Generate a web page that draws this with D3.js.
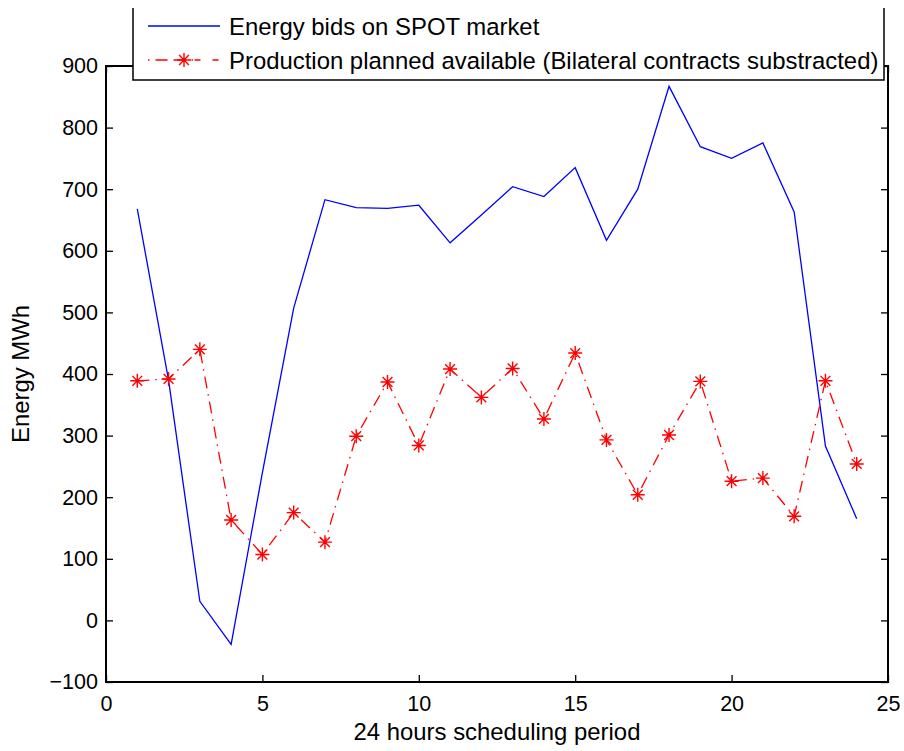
<!DOCTYPE html>
<html>
<head>
<meta charset="utf-8">
<script src="https://cdn.jsdelivr.net/npm/d3@7"></script>
<style>
  body { margin: 0; background: #fff; }
  text { font-family: "Liberation Sans", Arial, sans-serif; fill: #000; }
</style>
</head>
<body>
<div id="chart"></div>
<script>
// data
var hours = [1, 2, 3, 4, 5, 6, 7, 8, 9, 10, 11, 12, 13, 14, 15, 16, 17, 18, 19, 20, 21, 22, 23, 24];
var spotBids = [668, 390, 31, -39, 240, 507, 683, 670, 669, 674, 613, 658, 704, 688, 735, 617, 700, 867, 769, 750, 775, 663, 283, 165];
var plannedAvail = [389, 392, 440, 163, 107, 175, 127, 299, 387, 284, 408, 362, 409, 327, 434, 293, 204, 301, 388, 226, 231, 169, 389, 254];
var xTicks = [0, 5, 10, 15, 20, 25];
var yTicks = [-100, 0, 100, 200, 300, 400, 500, 600, 700, 800, 900];
var legendLabels = ["Energy bids on SPOT market", "Production planned available (Bilateral contracts substracted)"];

var width = 904, height = 751;
var margin = { top: 66, right: 16, bottom: 69, left: 106 };
var w = width - margin.left - margin.right,
    h = height - margin.top - margin.bottom;

var svg = d3.select("#chart").append("svg")
    .attr("width", width)
    .attr("height", height);

var g = svg.append("g")
    .attr("transform", "translate(" + margin.left + "," + margin.top + ")");

var xScale = d3.scaleLinear().domain([0, 25]).range([0, w]);
var yScale = d3.scaleLinear().domain([-100, 900]).range([h, 0]);

// axes, ticks pointing inward (matlab style)
var tickFs = "21.5px", labelFs = "23.9px";
g.append("g")
    .attr("transform", "translate(0," + h + ")")
    .call(d3.axisBottom(xScale).tickValues(xTicks).tickSizeInner(-7).tickSizeOuter(0).tickPadding(14))
    .call(a => a.select(".domain").remove());
g.append("g")
    .call(d3.axisTop(xScale).tickValues(xTicks).tickSizeInner(-7).tickSizeOuter(0).tickFormat(""))
    .call(a => a.select(".domain").remove());
g.append("g")
    .call(d3.axisLeft(yScale).tickValues(yTicks).tickSizeInner(-7).tickSizeOuter(0).tickPadding(8).tickFormat(d => d < 0 ? "\u2212" + (-d) : d))
    .call(a => a.select(".domain").remove());
g.append("g")
    .attr("transform", "translate(" + w + ",0)")
    .call(d3.axisRight(yScale).tickValues(yTicks).tickSizeInner(-7).tickSizeOuter(0).tickFormat(""))
    .call(a => a.select(".domain").remove());

g.selectAll(".tick line").attr("stroke", "#000").attr("stroke-width", 1.3);
g.selectAll(".tick text").style("font-size", tickFs).attr("fill", "#000");

// box
g.append("rect")
    .attr("width", w).attr("height", h)
    .attr("fill", "none").attr("stroke", "#000").attr("stroke-width", 2);

// lines
var line1 = d3.line().x((d, i) => xScale(hours[i])).y(d => yScale(d));

g.append("path")
    .datum(spotBids)
    .attr("d", line1)
    .attr("fill", "none")
    .attr("stroke", "#0000ff")
    .attr("stroke-width", 1.3);

g.append("path")
    .datum(plannedAvail)
    .attr("d", line1)
    .attr("fill", "none")
    .attr("stroke", "#ff0000")
    .attr("stroke-width", 1.3)
    .attr("stroke-dasharray", "12,6,1.5,6");

// star marker, like matlab '*'
function star(s) {
    var d = s * 0.7;
    return "M" + (-s) + ",0H" + s + "M0," + (-s) + "V" + s +
        "M" + (-d) + "," + (-d) + "L" + d + "," + d +
        "M" + (-d) + "," + d + "L" + d + "," + (-d);
}

g.selectAll(".star")
    .data(plannedAvail)
    .enter()
    .append("path")
    .attr("class", "star")
    .attr("transform", (d, i) => "translate(" + xScale(hours[i]) + "," + yScale(d) + ")")
    .attr("d", star(7))
    .attr("fill", "none")
    .attr("stroke", "#ff0000")
    .attr("stroke-width", 1.4);

// axis titles
svg.append("text")
    .attr("x", margin.left + w / 2)
    .attr("y", 740)
    .attr("text-anchor", "middle")
    .style("font-size", labelFs)
    .text("24 hours scheduling period");

svg.append("text")
    .attr("transform", "translate(29," + (margin.top + h / 2) + ") rotate(-90)")
    .attr("text-anchor", "middle")
    .style("font-size", labelFs)
    .text("Energy MWh");

// legend (top edge cut off in the original)
var lx0 = 133, lx1 = 884, ly0 = 8, ly1 = 80;
svg.append("rect")
    .attr("x", lx0).attr("y", ly0)
    .attr("width", lx1 - lx0).attr("height", ly1 - ly0)
    .attr("fill", "#fff");
svg.append("path")
    .attr("d", "M" + lx0 + "," + ly0 + "V" + ly1 + "H" + lx1 + "V" + ly0)
    .attr("fill", "none")
    .attr("stroke", "#000")
    .attr("stroke-width", 1.5);

var legend = svg.selectAll(".legend")
    .data(legendLabels)
    .enter()
    .append("g")
    .attr("class", "legend")
    .attr("transform", (d, i) => "translate(0," + (26 + i * 34) + ")");

legend.append("line")
    .attr("x1", 148).attr("x2", 220)
    .attr("stroke", (d, i) => i == 0 ? "#0000ff" : "#ff0000")
    .attr("stroke-width", 1.3)
    .attr("stroke-dasharray", (d, i) => i == 0 ? null : "1.5,6,12,6,12,6,1.5");

legend.filter((d, i) => i == 1)
    .append("path")
    .attr("transform", "translate(184,0)")
    .attr("d", star(7))
    .attr("fill", "none")
    .attr("stroke", "#ff0000")
    .attr("stroke-width", 1.4);

legend.append("text")
    .attr("x", 229)
    .attr("y", 8.5)
    .style("font-size", labelFs)
    .text(d => d);
</script>
</body>
</html>
